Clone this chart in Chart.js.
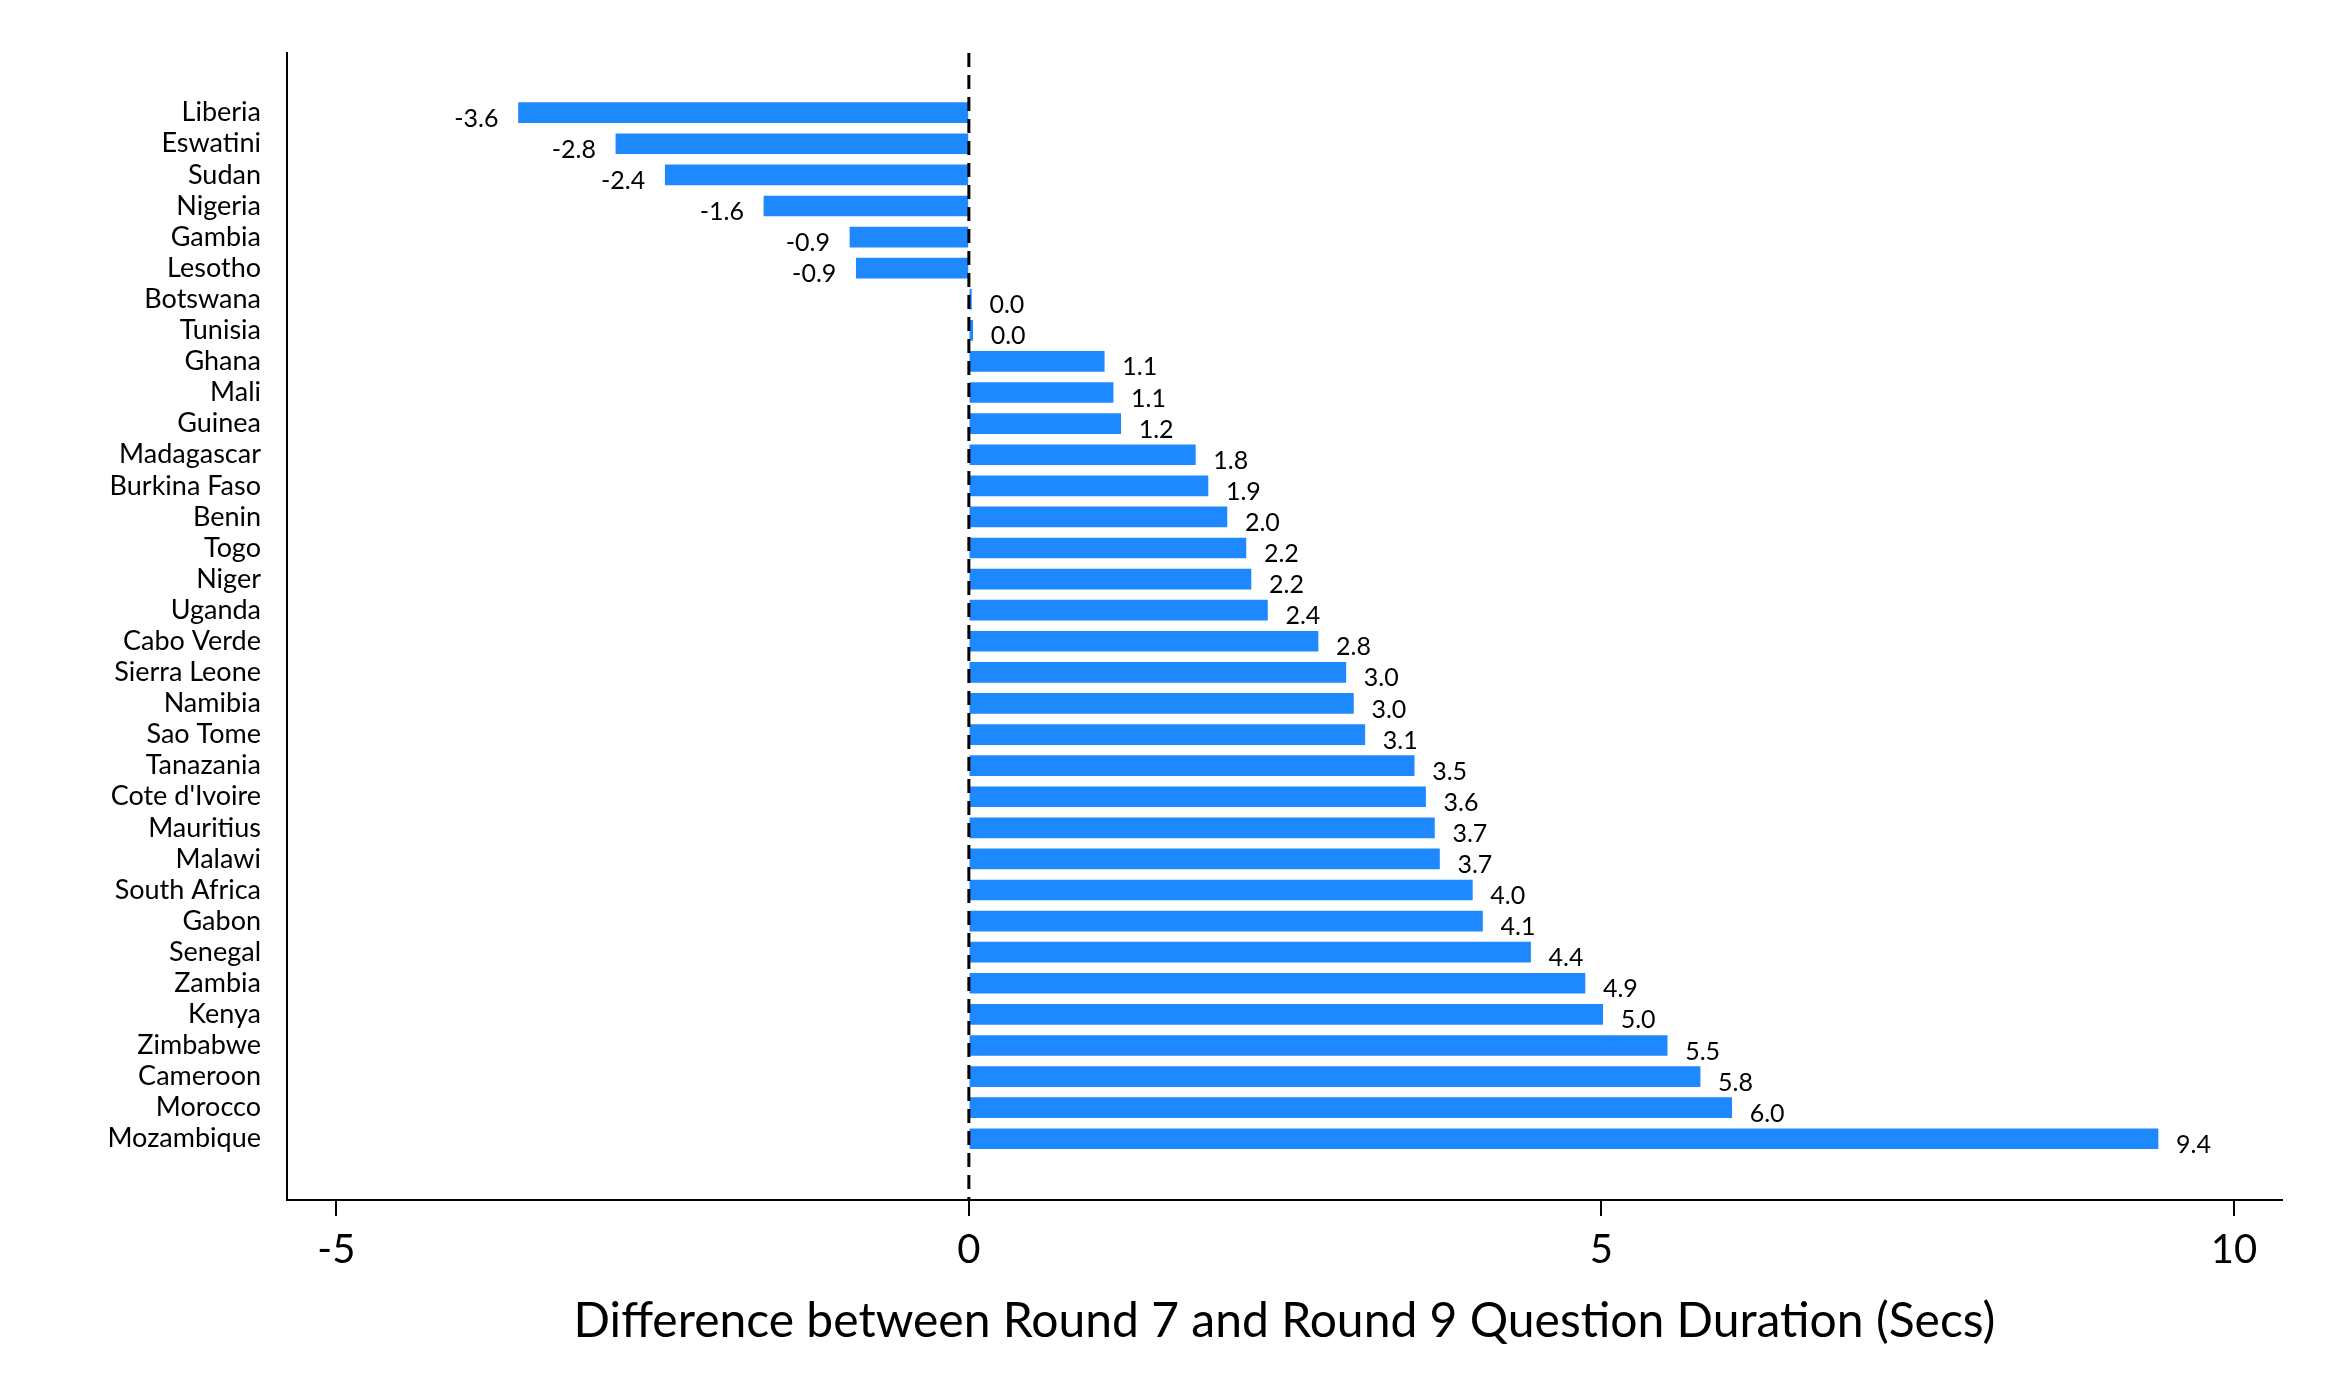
<!DOCTYPE html>
<html>
<head>
<meta charset="utf-8">
<script src="https://cdn.jsdelivr.net/npm/chart.js@4.4.0/dist/chart.umd.min.js"></script>
<style>
  html, body { margin: 0; padding: 0; background: #fff; }
  #wrap { width: 2330px; height: 1398px; }
</style>
</head>
<body>
<div id="wrap"><canvas id="c" width="2330" height="1398"></canvas></div>
<script>
const countries = ['Liberia', 'Eswatini', 'Sudan', 'Nigeria', 'Gambia', 'Lesotho', 'Botswana', 'Tunisia',
  'Ghana', 'Mali', 'Guinea', 'Madagascar', 'Burkina Faso', 'Benin', 'Togo', 'Niger', 'Uganda',
  'Cabo Verde', 'Sierra Leone', 'Namibia', 'Sao Tome', 'Tanazania', "Cote d'Ivoire", 'Mauritius',
  'Malawi', 'South Africa', 'Gabon', 'Senegal', 'Zambia', 'Kenya', 'Zimbabwe', 'Cameroon',
  'Morocco', 'Mozambique'];
const diffs = [-3.56, -2.79, -2.4, -1.62, -0.94, -0.89, 0.02, 0.03,
  1.07, 1.14, 1.2, 1.79, 1.89, 2.04, 2.19, 2.23, 2.36,
  2.76, 2.98, 3.04, 3.13, 3.52, 3.61, 3.68,
  3.72, 3.98, 4.06, 4.44, 4.87, 5.01, 5.52, 5.78,
  6.03, 9.4];
const xTicks = [-5, 0, 5, 10];

const FONT = 'Lato';

const extras = {
  id: 'extras',
  afterDatasetsDraw(chart) {
    const { ctx, scales: { x, y }, chartArea } = chart;
    ctx.save();
    // dashed zero line
    ctx.strokeStyle = '#000';
    ctx.lineWidth = 3;
    ctx.setLineDash([14, 8]);
    ctx.beginPath();
    ctx.moveTo(x.getPixelForValue(0), chartArea.top);
    ctx.lineTo(x.getPixelForValue(0), chartArea.bottom);
    ctx.stroke();
    ctx.setLineDash([]);
    // value labels
    ctx.fillStyle = '#000';
    ctx.font = '25px ' + FONT;
    ctx.textBaseline = 'middle';
    diffs.forEach((v, i) => {
      const px = x.getPixelForValue(v);
      const py = y.getPixelForValue(i) + 6;
      const txt = v.toFixed(1);
      if (v < 0) {
        ctx.textAlign = 'right';
        ctx.fillText(txt, px - 20, py);
      } else {
        ctx.textAlign = 'left';
        ctx.fillText(txt, px + 18, py);
      }
    });
    ctx.restore();
  }
};

new Chart(document.getElementById('c'), {
  type: 'bar',
  data: {
    datasets: [{
      data: diffs.map((v, i) => ({ x: v, y: i })),
      backgroundColor: '#1e88ff',
      barThickness: 20,
    }],
  },
  options: {
    indexAxis: 'y',
    responsive: false,
    animation: false,
    layout: { padding: { top: 53, right: 48, left: 0, bottom: 0 } },
    plugins: { legend: { display: false }, tooltip: { enabled: false } },
    scales: {
      x: {
        type: 'linear',
        min: -5.39,
        max: 10.38,
        afterBuildTicks: s => { s.ticks = xTicks.map(v => ({ value: v })); },
        afterFit: s => { s.height = 198; },
        grid: { drawOnChartArea: false, drawTicks: true, tickLength: 16, color: '#000', lineWidth: 2 },
        border: { display: true, color: '#000', width: 2 },
        ticks: { color: '#000', font: { family: FONT, size: 40 }, padding: 10 },
        title: {
          display: true,
          text: 'Difference between Round 7 and Round 9 Question Duration (Secs)',
          color: '#000',
          font: { family: FONT, size: 48 },
          padding: { top: 0, bottom: 48 },
        },
      },
      y: {
        type: 'linear',
        reverse: true,
        offset: false,
        min: -1.92,
        max: 34.97,
        afterBuildTicks: s => { s.ticks = countries.map((c, i) => ({ value: i })); },
        afterFit: s => { s.width = 287; },
        grid: { display: false, offset: false },
        border: { display: true, color: '#000', width: 2 },
        ticks: {
          color: '#000',
          font: { family: FONT, size: 27 },
          padding: 18,
          autoSkip: false,
          callback: v => countries[v],
        },
      },
    },
  },
  plugins: [extras],
});
</script>
</body>
</html>
